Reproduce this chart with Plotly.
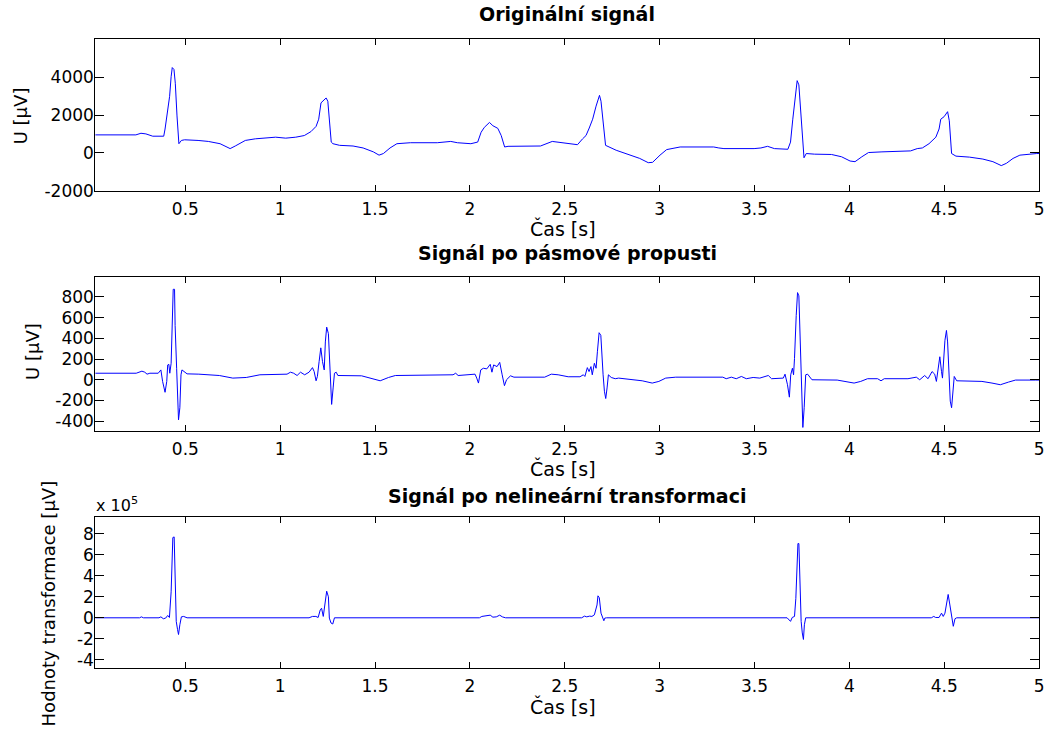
import plotly.graph_objects as go

# ---------------- data ----------------
# Panel 1: original signal, time [s] and U [uV]
t_orig = [0.025, 0.239, 0.266, 0.292, 0.328, 0.386, 0.393, 0.402, 0.417, 0.425, 0.431, 0.440, 0.447, 0.456,
          0.461, 0.466, 0.479, 0.496, 0.567, 0.621, 0.683, 0.736, 0.763, 0.816, 0.869, 0.940, 0.976, 1.029,
          1.082, 1.127, 1.162, 1.189, 1.203, 1.215, 1.228, 1.242, 1.251, 1.260, 1.269, 1.278, 1.313, 1.384,
          1.437, 1.491, 1.521, 1.544, 1.579, 1.615, 1.686, 1.828, 1.899, 1.934, 2.005, 2.041, 2.059, 2.076,
          2.103, 2.121, 2.147, 2.165, 2.183, 2.201, 2.304, 2.372, 2.434, 2.505, 2.567, 2.594, 2.612, 2.629,
          2.647, 2.665, 2.683, 2.691, 2.704, 2.715, 2.771, 2.842, 2.895, 2.940, 2.963, 3.002, 3.037, 3.108,
          3.285, 3.312, 3.339, 3.498, 3.534, 3.569, 3.605, 3.676, 3.690, 3.702, 3.715, 3.725, 3.734, 3.743,
          3.752, 3.761, 3.773, 3.817, 3.906, 3.959, 4.004, 4.030, 4.066, 4.101, 4.172, 4.243, 4.323, 4.358,
          4.385, 4.420, 4.456, 4.473, 4.482, 4.500, 4.518, 4.527, 4.539, 4.562, 4.633, 4.704, 4.757, 4.801,
          4.828, 4.863, 4.899, 4.988, 5.000]
u_orig = [951, 951, 1037, 1003, 882, 882, 1262, 1954, 2991, 4029, 4513, 4409, 3683, 1954,
          743, 484, 657, 692, 657, 605, 484, 225, 363, 657, 743, 795, 830, 778,
          830, 916, 1124, 1400, 1781, 2645, 2766, 2905, 2732, 1781, 571, 484, 398, 363,
          259, 52, -121, -35, 259, 484, 536, 536, 605, 536, 484, 571, 1089, 1349,
          1608, 1435, 1297, 916, 311, 346, 363, 363, 605, 519, 432, 743, 916, 1314,
          1781, 2472, 3043, 2732, 1435, 398, 138, -86, -294, -519, -501, -121, 173, 311,
          311, 259, 225, 225, 259, 346, 225, 190, 571, 1781, 2991, 3821, 3597, 2127,
          743, -259, -35, -69, -86, -207, -432, -467, -207, 17, 52, 86, 104, 225,
          259, 484, 830, 1262, 1781, 1919, 2179, 1695, -35, -173, -225, -328, -467, -674,
          -553, -294, -121, -35, -35]

# Panel 2: signal after band-pass filter, time [s] and U [uV]
t_band = [0.025, 0.241, 0.271, 0.286, 0.298, 0.313, 0.357, 0.371, 0.380, 0.393, 0.402, 0.407, 0.413, 0.418,
          0.425, 0.429, 0.436, 0.443, 0.446, 0.454, 0.459, 0.464, 0.471, 0.477, 0.482, 0.491, 0.509, 0.571,
          0.643, 0.679, 0.750, 0.821, 0.893, 1.036, 1.054, 1.071, 1.089, 1.107, 1.129, 1.152, 1.170, 1.179,
          1.189, 1.196, 1.205, 1.214, 1.223, 1.232, 1.238, 1.245, 1.254, 1.259, 1.264, 1.271, 1.279, 1.286,
          1.295, 1.304, 1.429, 1.464, 1.527, 1.571, 1.607, 1.911, 1.925, 1.938, 2.027, 2.036, 2.045, 2.057,
          2.071, 2.089, 2.107, 2.116, 2.125, 2.143, 2.157, 2.170, 2.182, 2.193, 2.214, 2.232, 2.394, 2.429,
          2.465, 2.518, 2.580, 2.598, 2.606, 2.619, 2.628, 2.638, 2.645, 2.656, 2.665, 2.672, 2.681, 2.690,
          2.695, 2.702, 2.709, 2.716, 2.723, 2.730, 2.745, 2.766, 2.784, 2.855, 2.908, 2.961, 2.996, 3.032,
          3.085, 3.333, 3.351, 3.378, 3.404, 3.431, 3.457, 3.493, 3.528, 3.573, 3.590, 3.652, 3.661, 3.674,
          3.684, 3.691, 3.700, 3.706, 3.711, 3.720, 3.727, 3.734, 3.741, 3.746, 3.752, 3.755, 3.762, 3.770,
          3.780, 3.791, 3.803, 3.936, 3.989, 4.025, 4.060, 4.096, 4.149, 4.167, 4.184, 4.309, 4.353, 4.371,
          4.397, 4.415, 4.436, 4.450, 4.459, 4.472, 4.477, 4.486, 4.491, 4.504, 4.512, 4.518, 4.525, 4.532,
          4.539, 4.546, 4.553, 4.566, 4.699, 4.752, 4.796, 4.840, 4.876, 4.982, 5.000]
u_band = [63, 63, 83, 73, 54, 63, 63, 95, -16, -121, -16, 143, 149, 63,
          159, 492, 873, 873, 524, 111, -206, -387, -270, 48, 95, 79, 57, 54,
          48, 41, 16, 22, 48, 54, 73, 63, 41, 73, 48, 73, 117, 79,
          -10, 32, 175, 308, 175, 95, 365, 508, 445, 206, -48, -238, -79, 63,
          73, 41, 38, 22, -10, 22, 41, 48, 63, 41, 54, 16, -32, 95,
          111, 105, 149, 73, 143, 127, 168, 48, -57, 0, 38, 25, 25, 54,
          48, 29, 29, 48, 32, 117, 79, 127, 48, 159, 111, 270, 454, 429,
          238, 48, -111, -181, -79, 48, 22, 10, 16, 0, -10, -32, -16, 16,
          25, 25, 10, 25, 10, 32, 10, 22, 16, 41, 10, 16, 54, -48,
          -168, 48, 111, 48, 206, 619, 841, 810, 365, -16, -365, -460, -270, 48,
          54, 32, 0, -3, -22, -32, -16, 10, 10, -10, 10, 10, 25, 0,
          41, 10, 79, 54, -16, 168, 222, 79, 16, 381, 476, 365, 48, -206,
          -270, -79, 32, -10, -16, -32, -48, -22, -3, -3, -3]

# Panel 3: signal after nonlinear transformation, time [s] and value [x 1e5 uV]
t_trans = [0.025, 0.259, 0.268, 0.279, 0.361, 0.371, 0.384, 0.396, 0.407, 0.416, 0.425, 0.429, 0.434, 0.441,
           0.446, 0.452, 0.459, 0.464, 0.471, 0.479, 0.491, 0.509, 1.152, 1.170, 1.188, 1.200, 1.211, 1.218,
           1.227, 1.236, 1.245, 1.254, 1.259, 1.268, 1.277, 1.286, 2.050, 2.063, 2.089, 2.107, 2.121, 2.139,
           2.157, 2.171, 2.188, 2.589, 2.604, 2.616, 2.631, 2.643, 2.656, 2.663, 2.670, 2.675, 2.682, 2.691,
           2.699, 2.706, 2.711, 2.720, 3.672, 3.681, 3.690, 3.699, 3.711, 3.718, 3.724, 3.729, 3.734, 3.739,
           3.746, 3.752, 3.758, 3.763, 3.770, 4.432, 4.445, 4.455, 4.473, 4.486, 4.495, 4.504, 4.513, 4.521,
           4.530, 4.539, 4.548, 4.557, 4.566, 5.000]
v_trans = [0, 0, 0.09, 0, 0, 0.09, -0.09, -0.03, 0.22, 0.03, 2.47, 4.97, 7.63, 7.69,
           3.41, -0.34, -1.13, -1.59, -0.66, 0.09, 0.13, 0, 0, 0.13, 0.13, 0.03, 0.75, 0.91,
           0.13, 1.53, 2.53, 2.0, -0.03, -0.5, -0.59, 0, 0, 0.13, 0.19, 0.25, 0.06, 0.09,
           0.25, 0.09, 0, 0, 0.16, 0.09, 0.16, 0.13, 0.28, 0.75, 1.22, 2.09, 1.91, 0.44,
           -0.09, -0.28, -0.03, 0, 0, -0.19, -0.34, 0.03, 0.13, 1.84, 6.22, 7.06, 7.06, 2.78,
           -0.34, -1.44, -2.06, -0.66, 0, 0, 0.13, 0.03, 0.03, 0.44, 0.13, 0.44, 1.22, 2.22,
           1.22, -0.03, -0.81, -0.09, 0, 0]

x_ticks = [0.5, 1, 1.5, 2, 2.5, 3, 3.5, 4, 4.5, 5]
x_tick_text = ["0.5", "1", "1.5", "2", "2.5", "3", "3.5", "4", "4.5", "5"]
y1_ticks = [-2000, 0, 2000, 4000]
y2_ticks = [-400, -200, 0, 200, 400, 600, 800]
y3_ticks = [-4, -2, 0, 2, 4, 6, 8]

titles = ["Originální signál", "Signál po pásmové propusti", "Signál po nelineární transformaci"]
x_label = "Čas [s]"
y_labels = ["U [µV]", "U [µV]", "Hodnoty transformace [µV]"]

# ---------------- figure ----------------
W, H = 1052, 733
FONT = "DejaVu Sans"
BLUE = "#0000ff"


def px_x(p):
    return p / W


def px_y(p):
    return 1 - p / H


x_dom = [px_x(95.7), px_x(1044)]
y_doms = [[px_y(193.3), px_y(40)], [px_y(436.7), px_y(281)], [px_y(677.3), px_y(524)]]
y_ranges = [[-2000, 6000], [-492, 990], [-4.78, 9.6]]
y_ticks = [y1_ticks, y2_ticks, y3_ticks]
series = [(t_orig, u_orig), (t_band, u_band), (t_trans, v_trans)]

fig = go.Figure()
for i, (tt, vv) in enumerate(series):
    k = "" if i == 0 else str(i + 1)
    fig.add_trace(go.Scatter(x=tt, y=vv, mode="lines", line=dict(color=BLUE, width=1.0),
                             xaxis="x" + k, yaxis="y" + k, showlegend=False, hoverinfo="skip"))
    fig.layout["xaxis" + k] = dict(
        domain=x_dom, range=[0.025, 5.0], anchor="y" + k,
        tickvals=x_ticks, ticktext=x_tick_text, ticks="inside", ticklen=6, tickwidth=1,
        tickcolor="black", showline=True, linecolor="black", linewidth=1, mirror="ticks",
        showgrid=False, zeroline=False, tickfont=dict(family=FONT, size=17, color="black"),
        ticklabelstandoff=3,
    )
    fig.layout["yaxis" + k] = dict(
        domain=y_doms[i], range=y_ranges[i], anchor="x" + k,
        tickvals=y_ticks[i], ticktext=[str(v) for v in y_ticks[i]], ticks="inside", ticklen=9,
        tickwidth=1, tickcolor="black", showline=True, linecolor="black", linewidth=1,
        mirror="ticks", showgrid=False, zeroline=False,
        tickfont=dict(family=FONT, size=17, color="black"),
        ticklabelstandoff=-3,
    )

ann = []
title_y = [14, 257, 503]
for i, ty in enumerate(title_y):
    ann.append(dict(text="<b>" + titles[i] + "</b>", x=px_x(570), y=px_y(ty), xref="paper", yref="paper",
                    xanchor="center", yanchor="middle", showarrow=False,
                    font=dict(family=FONT, size=19, color="black")))
for cy in [232, 475, 716]:
    ann.append(dict(text=x_label, x=px_x(566), y=px_y(cy), xref="paper", yref="paper",
                    xanchor="center", yanchor="middle", showarrow=False,
                    font=dict(family=FONT, size=19, color="black")))
ylab_pos = [(21, 117, 18), (32, 356, 18), (49, 612, 18)]
for i, (lx, ly, fs) in enumerate(ylab_pos):
    ann.append(dict(text=y_labels[i], x=px_x(lx), y=px_y(ly), xref="paper", yref="paper",
                    xanchor="center", yanchor="middle", textangle=-90, showarrow=False,
                    font=dict(family=FONT, size=fs, color="black")))
ann.append(dict(text="x 10<sup>5</sup>", x=px_x(94), y=px_y(511), xref="paper", yref="paper",
                xanchor="left", yanchor="middle", showarrow=False,
                font=dict(family=FONT, size=16, color="black")))

fig.update_layout(width=W, height=H, margin=dict(l=0, r=0, t=0, b=0),
                  paper_bgcolor="white", plot_bgcolor="white", annotations=ann,
                  font=dict(family=FONT, color="black"))

fig.write_html("out.html", config={"displayModeBar": False},
               post_script="document.body.style.margin='0';document.body.style.padding='0';"
                           "document.body.style.overflow='hidden';")
